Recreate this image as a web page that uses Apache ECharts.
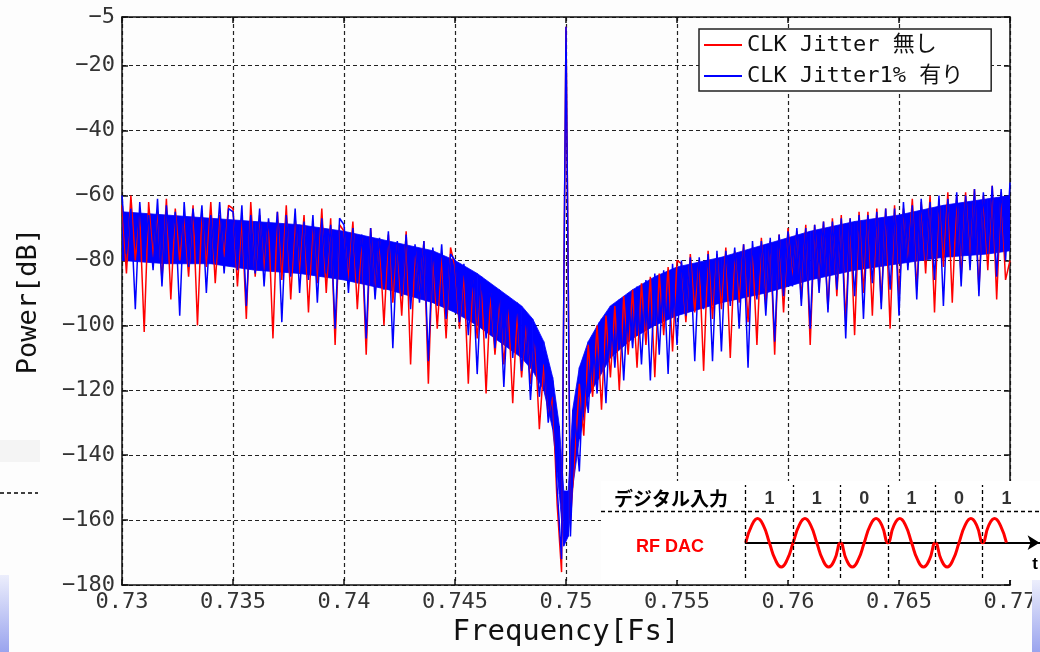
<!DOCTYPE html>
<html>
<head>
<meta charset="utf-8">
<title>CLK Jitter spectrum</title>
<script src="https://cdn.jsdelivr.net/npm/echarts@6/dist/echarts.min.js"></script>
<style>
  html, body { margin: 0; padding: 0; background: #fdfdfd; }
  #main { width: 1040px; height: 652px; }
</style>
</head>
<body>
<div id="main"></div>
<script>
// FFT bins: 0.73 .. 0.77 Fs
const fStart = 0.73;
const fStep = 0.0002;

// CLK Jitter 無し
const redDb = [
  -63, -84, -60, -80, -66, -102, -62, -79, -65, -86, -61, -92, -64, -80, -67, -85, -63, -100, -65, -82, -62, -87, -66, -79, -63,
  -64, -88, -67, -98, -62, -85, -66, -83, -68, -104, -65, -86, -63, -92, -67, -84, -66, -96, -68, -87, -64, -90, -67, -106, -69,
  -71, -86, -68, -95, -73, -109, -70, -90, -74, -100, -72, -93, -75, -97, -71, -112, -76, -92, -74, -118, -77, -101, -79, -104, -76,
  -82, -101, -84, -118, -86, -104, -87, -121, -90, -109, -92, -112, -94, -124, -96, -116, -99, -118, -104, -132, -112, -128, -122, -155, -176,
  -8,
  -160, -140, -118, -134, -106, -122, -100, -126, -97, -116, -94, -120, -91, -109, -89, -113, -87, -106, -85, -116, -84, -103, -82, -108, -80,
  -81, -99, -78, -96, -80, -114, -77, -98, -78, -95, -76, -110, -77, -93, -75, -99, -76, -106, -73, -94, -74, -109, -72, -96, -70,
  -86, -71, -92, -69, -106, -69, -88, -68, -95, -67, -91, -66, -99, -67, -103, -65, -90, -65, -97, -64, -93, -64, -101, -63, -91,
  -64, -81, -61, -89, -62, -84, -60, -96, -61, -82, -59, -93, -60, -85, -59, -80, -58, -89, -60, -83, -57, -92, -59, -86, -80
];

// CLK Jitter1% 有り
const blueDb = [
  -60, -78, -64, -95, -62, -80, -66, -83, -61, -88, -63, -79, -65, -97, -62, -82, -64, -78, -63, -90, -66, -81, -62, -84, -64,
  -65, -83, -63, -94, -66, -84, -64, -88, -67, -82, -65, -99, -66, -85, -64, -90, -68, -86, -66, -93, -67, -84, -69, -101, -67,
  -69, -90, -70, -87, -72, -104, -70, -92, -73, -89, -71, -107, -74, -91, -72, -95, -75, -93, -74, -111, -76, -94, -75, -98, -78,
  -80, -99, -81, -103, -84, -115, -85, -104, -88, -107, -89, -119, -91, -110, -93, -114, -96, -123, -102, -122, -108, -130, -117, -150, -172,
  -8,
  -165, -128, -145, -112, -127, -103, -121, -98, -124, -95, -113, -92, -117, -90, -107, -88, -112, -86, -117, -84, -109, -83, -115, -81, -106,
  -80, -97, -79, -111, -79, -95, -78, -111, -77, -108, -77, -94, -76, -101, -75, -113, -74, -92, -74, -97, -73, -105, -72, -91, -71,
  -88, -70, -94, -70, -101, -69, -90, -68, -96, -68, -89, -67, -104, -67, -91, -66, -98, -66, -87, -65, -95, -64, -89, -64, -97,
  -62, -83, -63, -92, -61, -80, -62, -86, -60, -94, -61, -79, -59, -88, -60, -83, -58, -91, -59, -78, -57, -85, -58, -80, -56
];

// dense part of the blue trace (where the noise is solid)
const coreFreq = [0.730, 0.732, 0.734, 0.736, 0.738, 0.740, 0.742, 0.744, 0.745, 0.746, 0.747, 0.748, 0.7485, 0.749, 0.7494, 0.7497, 0.7499,
                  0.7501, 0.7503, 0.7506, 0.751, 0.7515, 0.752, 0.753, 0.754, 0.755, 0.757, 0.759, 0.761, 0.763, 0.765, 0.767, 0.769, 0.770];
const coreTop = [-65, -66, -67, -68, -69, -71, -74, -77, -80, -84, -89, -94, -98, -105, -116, -131, -151,
                 -151, -126, -113, -105, -99, -94, -89, -85, -82, -79, -75, -71, -68, -66, -63, -61, -60];
const coreBottom = [-80, -81, -81, -83, -84, -86, -89, -93, -96, -100, -105, -110, -114, -120, -132, -152, -168,
                    -165, -150, -135, -122, -116, -110, -104, -100, -97, -93, -90, -86, -83, -81, -79, -78, -77];

// inset: digital input bits and RF DAC output
const bits = ['1', '1', '0', '1', '0', '1'];
const bitEdges = [0, 1, 2, 3, 4, 5];
const waveStep = 0.125;
const waveform = [
  0, 0.7, 1, 0.7, 0, -0.7, -1, -0.7,
  0, 0.7, 1, 0.7, 0, -0.7, -1, -0.7,
  0, -0.7, -1, -0.7, 0, 0.7, 1, 0.7,
  0, 0.7, 1, 0.7, 0, -0.7, -1, -0.7,
  0, -0.7, -1, -0.7, 0, 0.7, 1, 0.7,
  0, 0.7, 1, 0.7, 0
];

const freqOf = i => +(fStart + i * fStep).toFixed(5);
const redData = redDb.map((v, i) => [freqOf(i), v]);
const blueData = blueDb.map((v, i) => [freqOf(i), v]);
const coreData = coreFreq.map((f, i) => [f, coreTop[i], coreBottom[i]]);
const waveData = waveform.map((v, i) => [i * waveStep, v]);
const bitData = bits.map((b, i) => [i + 0.5, 1.8, b]);

const mono = "'DejaVu Sans Mono', 'Noto Sans CJK JP', monospace";
const minus = v => String(v).replace('-', '\u2212');

// one quad per pair of neighbouring core points
function renderCore(params, api) {
  const i = params.dataIndex;
  if (i >= coreData.length - 1) return null;
  const a = coreData[i], b = coreData[i + 1];
  return {
    type: 'polygon',
    shape: {
      points: [api.coord([a[0], a[1]]), api.coord([b[0], b[1]]),
               api.coord([b[0], b[2]]), api.coord([a[0], a[2]])]
    },
    style: { fill: '#0000ff', stroke: '#0000ff', lineWidth: 0.8 }
  };
}

var chart = echarts.init(document.getElementById('main'));
var option = {
  animation: false,
  backgroundColor: '#fdfdfd',
  legend: {
    data: ['CLK Jitter 無し', 'CLK Jitter1% 有り'],
    orient: 'vertical',
    left: 699,
    top: 29,
    padding: [5, 28, 4, 5],
    itemGap: 9,
    itemWidth: 38,
    itemHeight: 2,
    icon: 'rect',
    backgroundColor: '#fff',
    borderColor: '#222',
    borderWidth: 1.5,
    borderRadius: 0,
    textStyle: { fontFamily: mono, fontSize: 22, color: '#111' }
  },
  grid: [
    { left: 122, right: 30, top: 17, bottom: 66 },
    { left: 745.7, right: 0.4, top: 485, bottom: 74 }
  ],
  xAxis: [
    {
      gridIndex: 0, type: 'value', min: 0.73, max: 0.77, interval: 0.005,
      name: 'Frequency[Fs]', nameLocation: 'middle', nameGap: 30,
      nameTextStyle: { fontFamily: mono, fontSize: 29, color: '#111' },
      axisLine: { lineStyle: { color: '#111', width: 1.5 } },
      axisTick: { inside: true, length: 6, lineStyle: { color: '#111', width: 1.5 } },
      axisLabel: { fontFamily: mono, fontSize: 22, color: '#333', margin: 6 },
      splitLine: { show: true, lineStyle: { color: '#222', type: [4, 3], width: 1.2 } }
    },
    {
      gridIndex: 0, type: 'value', min: 0.73, max: 0.77, interval: 0.005, position: 'top',
      axisLine: { lineStyle: { color: '#111', width: 1.5 } },
      axisTick: { inside: true, length: 6, lineStyle: { color: '#111', width: 1.5 } },
      axisLabel: { show: false },
      splitLine: { show: false }
    },
    {
      gridIndex: 1, type: 'value', min: 0, max: 6.2, z: 20,
      axisLine: { onZero: true, symbol: ['none', 'arrow'], symbolSize: [11, 12], lineStyle: { color: '#000', width: 2 } },
      axisTick: { show: false },
      axisLabel: { show: false },
      splitLine: { show: false }
    }
  ],
  yAxis: [
    {
      gridIndex: 0, type: 'value', min: -180, max: -5, interval: 20,
      name: 'Power[dB]', nameLocation: 'middle', nameGap: 80,
      nameTextStyle: { fontFamily: mono, fontSize: 27, color: '#111' },
      axisLine: { lineStyle: { color: '#111', width: 1.5 } },
      axisTick: { inside: true, length: 6, lineStyle: { color: '#111', width: 1.5 } },
      axisLabel: { fontFamily: mono, fontSize: 22, color: '#333', margin: 7, formatter: minus },
      splitLine: { show: true, lineStyle: { color: '#222', type: [4, 3], width: 1.2 } }
    },
    {
      gridIndex: 0, type: 'value', min: -180, max: -5, interval: 20, position: 'right',
      axisLine: { lineStyle: { color: '#111', width: 1.5 } },
      axisTick: { inside: true, length: 6, lineStyle: { color: '#111', width: 1.5 } },
      axisLabel: { show: false },
      splitLine: { show: false }
    },
    { gridIndex: 1, type: 'value', min: -1.453, max: 2.374, show: false }
  ],
  series: [
    {
      name: 'CLK Jitter 無し', type: 'line', data: redData,
      showSymbol: false, symbol: 'none',
      itemStyle: { color: '#ff0000' },
      lineStyle: { color: '#ff0000', width: 1.5 }
    },
    {
      name: 'core', type: 'custom', data: coreData, renderItem: renderCore,
      encode: { x: 0, y: [1, 2] }, silent: true, clip: true
    },
    {
      name: 'CLK Jitter1% 有り', type: 'line', data: blueData,
      showSymbol: false, symbol: 'none',
      itemStyle: { color: '#0000ff' },
      lineStyle: { color: '#0000ff', width: 1.5 }
    },
    {
      name: 'RF DAC', type: 'line', xAxisIndex: 2, yAxisIndex: 2, data: waveData,
      smooth: 0.5, symbol: 'none', z: 20,
      lineStyle: { color: '#ff0000', width: 3 },
      markLine: {
        z: 21, silent: true, symbol: ['none', 'none'], label: { show: false },
        lineStyle: { color: '#000', type: [4, 3], width: 1.3 },
        data: bitEdges.map(v => ({ xAxis: v }))
      }
    },
    {
      name: 'bits', type: 'scatter', xAxisIndex: 2, yAxisIndex: 2, data: bitData,
      symbolSize: 0, z: 20, silent: true,
      label: {
        show: true, position: 'inside', formatter: p => p.data[2],
        fontFamily: "'Liberation Sans', Arial", fontWeight: 'bold', fontSize: 18, color: '#000'
      }
    }
  ],
  graphic: [
    { type: 'rect', z: 10, shape: { x: 0, y: 440, width: 40, height: 22 }, style: { fill: '#f4f4f4' } },
    { type: 'line', z: 10, shape: { x1: 0, y1: 493, x2: 38, y2: 493 }, style: { stroke: '#000', lineWidth: 1.5, lineDash: [4, 3] } },
    {
      type: 'rect', z: 10, shape: { x: 0, y: 575, width: 9, height: 77 },
      style: { fill: new echarts.graphic.LinearGradient(0, 0, 0, 1, [{ offset: 0, color: '#eceefc' }, { offset: 1, color: '#9aa4ee' }]) }
    },
    { type: 'rect', z: 10, shape: { x: 601, y: 481, width: 439, height: 99 }, style: { fill: '#ffffff' } },
    {
      type: 'rect', z: 10, shape: { x: 1032, y: 580, width: 8, height: 72 },
      style: { fill: new echarts.graphic.LinearGradient(0, 0, 0, 1, [{ offset: 0, color: '#eceefc' }, { offset: 1, color: '#9aa4ee' }]) }
    },
    { type: 'line', z: 11, shape: { x1: 601, y1: 511.5, x2: 1040, y2: 511.5 }, style: { stroke: '#000', lineWidth: 1.3, lineDash: [4, 3] } },
    {
      type: 'text', z: 11, x: 671, y: 499,
      style: { text: 'デジタル入力', font: "bold 19px 'Noto Sans CJK JP'", fill: '#000', align: 'center', verticalAlign: 'middle' }
    },
    {
      type: 'text', z: 11, x: 670, y: 547,
      style: { text: 'RF DAC', font: "bold 18px 'Liberation Sans'", fill: '#ff0000', align: 'center', verticalAlign: 'middle' }
    },
    {
      type: 'text', z: 11, x: 1035, y: 564,
      style: { text: 't', font: "bold 17px 'Liberation Sans'", fill: '#000', align: 'center', verticalAlign: 'middle' }
    }
  ]
};
chart.setOption(option);
</script>
</body>
</html>
